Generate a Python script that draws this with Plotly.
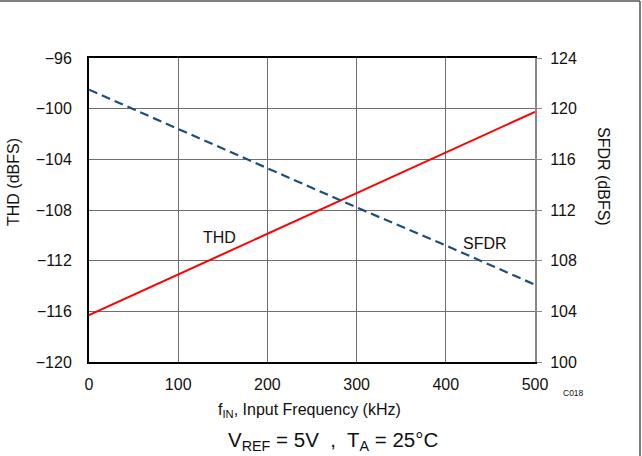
import plotly.graph_objects as go

freq_khz = [0, 100, 200, 300, 400, 500]
thd_dbfs = [-116.3, -113.1, -109.9, -106.7, -103.5, -100.25]
sfdr_dbfs = [121.5, 118.4, 115.3, 112.2, 109.2, 106.1]

W, H = 642, 456
x0, x1 = 89, 535
y0, y1 = 58, 362
font = "Liberation Sans, Arial, sans-serif"

fig = go.Figure()
fig.add_trace(go.Scatter(x=freq_khz, y=thd_dbfs, mode="lines",
                         line=dict(color="#ff0000", width=2), yaxis="y"))
fig.add_trace(go.Scatter(x=freq_khz, y=sfdr_dbfs, mode="lines",
                         line=dict(color="#1f4e79", width=2.2, dash="9px,5px"), yaxis="y2"))

fig.update_layout(
    width=W, height=H,
    margin=dict(l=0, r=0, t=0, b=0),
    paper_bgcolor="white", plot_bgcolor="white",
    showlegend=False,
    font=dict(family=font, size=16, color="#111"),
    xaxis=dict(domain=[x0 / W, x1 / W], range=[0, 500], tickvals=[0, 100, 200, 300, 400, 500],
               showgrid=True, gridcolor="#6e6e6e", gridwidth=1, zeroline=False,
               showline=True, linecolor="black", linewidth=2, mirror=True,
               ticks="", tickfont=dict(size=16), anchor="y", automargin=False,
               ticklabelstandoff=7),
    yaxis=dict(domain=[1 - y1 / H, 1 - y0 / H], range=[-120, -96],
               tickvals=[-120, -116, -112, -108, -104, -100, -96],
               ticktext=["\u2212120", "\u2212116", "\u2212112", "\u2212108", "\u2212104", "\u2212100", "\u221296"],
               showgrid=True, gridcolor="#6e6e6e", gridwidth=1, zeroline=False,
               showline=True, linecolor="black", linewidth=2,
               ticks="", tickfont=dict(size=16), anchor="x", automargin=False,
               ticklabelstandoff=12),
    yaxis2=dict(overlaying="y", side="right", range=[100, 124],
                tickvals=[100, 104, 108, 112, 116, 120, 124],
                showgrid=False, zeroline=False,
                showline=True, linecolor="#888", linewidth=2,
                ticks="outside", ticklen=5, tickcolor="#888",
                tickfont=dict(size=16), anchor="x", automargin=False,
                ticklabelstandoff=5),
)

ann = [
    dict(x=13, y=182, text="THD (dBFS)", textangle=-90, size=16),
    dict(x=604, y=176, text="SFDR (dBFS)", textangle=90, size=16),
    dict(x=309, y=410, text="f<sub>IN</sub>, Input Frequency (kHz)", textangle=0, size=16),
    dict(x=333, y=441, text="V<sub>REF</sub> = 5V\u00a0 ,\u00a0 T<sub>A</sub> = 25°C", textangle=0, size=20.5),
    dict(x=573, y=393, text="C018", textangle=0, size=8.5),
    dict(x=219, y=238, text="THD", textangle=0, size=16),
    dict(x=485, y=243, text="SFDR", textangle=0, size=16),
]
for a in ann:
    fig.add_annotation(x=a["x"] / W, y=1 - a["y"] / H, xref="paper", yref="paper",
                       text=a["text"], textangle=a["textangle"], showarrow=False,
                       font=dict(size=a["size"], family=font, color="#111"),
                       xanchor="center", yanchor="middle")

# figure border (top and right)
fig.add_shape(type="line", xref="paper", yref="paper", x0=0, x1=640 / W, y0=1 - 1 / H, y1=1 - 1 / H,
              line=dict(color="#555", width=1.5))
fig.add_shape(type="line", xref="paper", yref="paper", x0=640 / W, x1=640 / W, y0=0, y1=1 - 1 / H,
              line=dict(color="#555", width=1.5))

fig.write_html("out.html",
               post_script="document.body.style.margin='0';document.body.style.overflow='hidden';")
